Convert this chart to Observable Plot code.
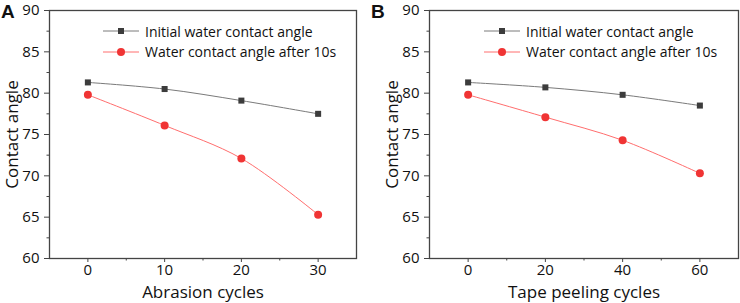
<!DOCTYPE html>
<html><head><meta charset="utf-8">
<script src="https://cdn.jsdelivr.net/npm/d3@7"></script>
<script src="https://cdn.jsdelivr.net/npm/@observablehq/plot@0.6"></script>
<style>
body{margin:0;background:#fff;}
#wrap{position:relative;width:740px;height:303px;overflow:hidden;font-family:"Open Sans",sans-serif;}
.panel{position:absolute;top:0;width:370px;height:303px;}
.letter{position:absolute;top:1px;left:1px;font:bold 19px "Liberation Sans",Arial,sans-serif;color:#111;line-height:1.15;}
.leg{position:absolute;font:14px "Open Sans",sans-serif;color:#111;white-space:nowrap;}
.leg .row{position:absolute;left:0;height:20px;display:flex;align-items:center;}
.leg svg{display:block;margin-right:6px;}
g[aria-label="y-axis label"], g[aria-label="x-axis label"]{font-size:17px;}
</style>
</head><body>
<div id="wrap">
  <div class="panel" id="pA" style="left:0"></div>
  <div class="panel" id="pB" style="left:370px"></div>
</div>
<script>
// ---- data ----
const seriesNames = ["Initial water contact angle", "Water contact angle after 10s"];
const abrasionCycles = [0, 10, 20, 30];
const abrasionInitial = [81.3, 80.5, 79.1, 77.5];
const abrasionAfter = [79.8, 76.1, 72.1, 65.3];
const peelingCycles = [0, 20, 40, 60];
const peelingInitial = [81.3, 80.7, 79.8, 78.5];
const peelingAfter = [79.8, 77.1, 74.3, 70.3];
const yTicks = [60, 65, 70, 75, 80, 85, 90];
const yMinorTicks = [62.5, 67.5, 72.5, 77.5, 82.5, 87.5];
const abrasionTicks = [0, 10, 20, 30];
const abrasionMinor = [5, 15, 25];
const peelingTicks = [0, 20, 40, 60];
const peelingMinor = [10, 30, 50];

const grayLine = "#7a7a7a", grayMark = "#3c3c3c";
const redLine = "#ff6e6e", redMark = "#f03434";
const axisColor = "#444";

function panel(cfg) {
  const init = cfg.x.map((x, i) => ({x, y: cfg.init[i]}));
  const after = cfg.x.map((x, i) => ({x, y: cfg.after[i]}));
  return Plot.plot({
    width: 370, height: 303,
    marginLeft: cfg.ml, marginRight: cfg.mr, marginTop: 10, marginBottom: 45,
    style: {fontFamily: "'Open Sans', sans-serif", fontSize: "15px", color: "#111", background: "transparent"},
    x: {domain: cfg.xDomain},
    y: {domain: [60, 90]},
    marks: [
      Plot.axisY(yTicks, {tickSize: 5, tickPadding: 5, stroke: axisColor, label: "Contact angle", labelAnchor: "center", labelArrow: "none", labelOffset: 44}),
      Plot.axisY(yMinorTicks, {tickSize: 2.5, text: null, label: null, stroke: axisColor}),
      Plot.axisX(cfg.ticks, {tickSize: 4, tickPadding: 2, stroke: axisColor, label: cfg.label, labelAnchor: "center", labelArrow: "none", labelOffset: 39}),
      Plot.axisX(cfg.minor, {tickSize: 2.5, text: null, label: null, stroke: axisColor}),
      Plot.frame({stroke: axisColor, strokeWidth: 1.3}),
      Plot.line(init, {x: "x", y: "y", stroke: grayLine, strokeWidth: 1, curve: "catmull-rom"}),
      Plot.line(after, {x: "x", y: "y", stroke: redLine, strokeWidth: 1, curve: "catmull-rom"}),
      Plot.dot(init, {x: "x", y: "y", symbol: "square", r: 3.4, fill: grayMark, stroke: "none"}),
      Plot.dot(after, {x: "x", y: "y", symbol: "circle", r: 4, fill: redMark, stroke: "none"})
    ]
  });
}

function legend(left) {
  const div = document.createElement("div");
  div.className = "leg";
  div.style.left = left + "px";
  div.style.top = "0px";
  const sym = [
    `<svg width="36" height="12"><line x1="0" x2="36" y1="6" y2="6" stroke="${grayLine}" stroke-width="1"/><rect x="15" y="3" width="6" height="6" fill="${grayMark}"/></svg>`,
    `<svg width="36" height="12"><line x1="0" x2="36" y1="6" y2="6" stroke="${redLine}" stroke-width="1"/><circle cx="18" cy="6" r="4" fill="${redMark}"/></svg>`
  ];
  seriesNames.forEach((name, i) => {
    const row = document.createElement("div");
    row.className = "row";
    row.style.top = (21 + i * 20.7) + "px";
    row.innerHTML = sym[i] + `<span>${name}</span>`;
    div.appendChild(row);
  });
  return div;
}

function letter(t) {
  const d = document.createElement("div");
  d.className = "letter"; d.textContent = t; return d;
}

const pA = document.getElementById("pA");
pA.appendChild(panel({x: abrasionCycles, init: abrasionInitial, after: abrasionAfter, xDomain: [-5, 35], ticks: abrasionTicks, minor: abrasionMinor, label: "Abrasion cycles", ml: 49, mr: 14}));
pA.appendChild(letter("A"));
pA.appendChild(legend(103));

const pB = document.getElementById("pB");
pB.appendChild(panel({x: peelingCycles, init: peelingInitial, after: peelingAfter, xDomain: [-10, 70], ticks: peelingTicks, minor: peelingMinor, label: "Tape peeling cycles", ml: 59, mr: 2}));
pB.appendChild(letter("B"));
pB.appendChild(legend(114));
</script>
</body></html>
